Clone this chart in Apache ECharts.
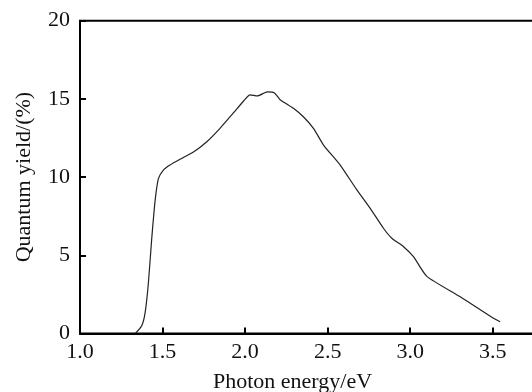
<!DOCTYPE html>
<html>
<head>
<meta charset="utf-8">
<script src="https://cdn.jsdelivr.net/npm/echarts@6/dist/echarts.min.js"></script>
<style>html,body{margin:0;padding:0;background:#fff;}#c{width:532px;height:392px;}</style>
</head>
<body>
<div id="c"></div>
<script>
const energy = [1.335,1.374,1.394,1.414,1.434,1.455,1.475,1.505,1.545,1.606,1.687,1.768,1.848,1.929,1.99,2.03,2.075,2.135,2.176,2.212,2.253,2.293,2.353,2.414,2.475,2.576,2.677,2.758,2.838,2.889,2.96,3.02,3.101,3.303,3.505,3.545];
const quantumYield = [0,0.5,1.3,3.2,6.0,8.5,9.9,10.45,10.77,11.14,11.6,12.26,13.12,14.1,14.85,15.26,15.19,15.45,15.4,14.95,14.67,14.4,13.86,13.12,12.05,10.77,9.18,8.0,6.73,6.09,5.55,4.91,3.65,2.35,0.97,0.75];
const xTitle = 'Photon energy/eV';
const yTitle = 'Quantum yield/(%)';

const font = 'Liberation Serif';
const chart = echarts.init(document.getElementById('c'));
chart.setOption({
  animation: false,
  backgroundColor: '#fff',
  grid: {left: 80, right: -2, top: 20.7, bottom: 58.5, containLabel: false, outerBoundsMode: 'none',
    show: true, borderColor: '#000', borderWidth: 2, backgroundColor: 'transparent'},
  xAxis: {
    type: 'value', min: 1.0, max: 3.75, interval: 0.5, position: 'bottom',
    name: xTitle, nameLocation: 'middle', nameGap: 38,
    nameTextStyle: {fontFamily: font, fontSize: 22, color: '#111', padding: [0, 29, 0, 0]},
    axisLine: {show: true, onZero: false, lineStyle: {color: '#000', width: 2}},
    axisTick: {show: true, inside: true, length: 6, lineStyle: {color: '#000', width: 2}},
    axisLabel: {fontFamily: font, fontSize: 22, color: '#111', margin: 8, showMaxLabel: false,
      formatter: v => v.toFixed(1)},
    splitLine: {show: false}
  },
  yAxis: {
    type: 'value', min: 0, max: 20, interval: 5,
    name: yTitle, nameLocation: 'middle', nameGap: 45,
    nameTextStyle: {fontFamily: font, fontSize: 22, color: '#111'},
    axisLine: {show: true, lineStyle: {color: '#000', width: 2}},
    axisTick: {show: true, inside: true, length: 6, lineStyle: {color: '#000', width: 2}},
    axisLabel: {fontFamily: font, fontSize: 22, color: '#111', margin: 10},
    splitLine: {show: false}
  },
  series: [{
    type: 'line',
    data: energy.map((e, i) => [e, quantumYield[i]]),
    showSymbol: false, smooth: 0.2,
    lineStyle: {color: '#222', width: 1.2}
  }]
});
</script>
</body>
</html>
